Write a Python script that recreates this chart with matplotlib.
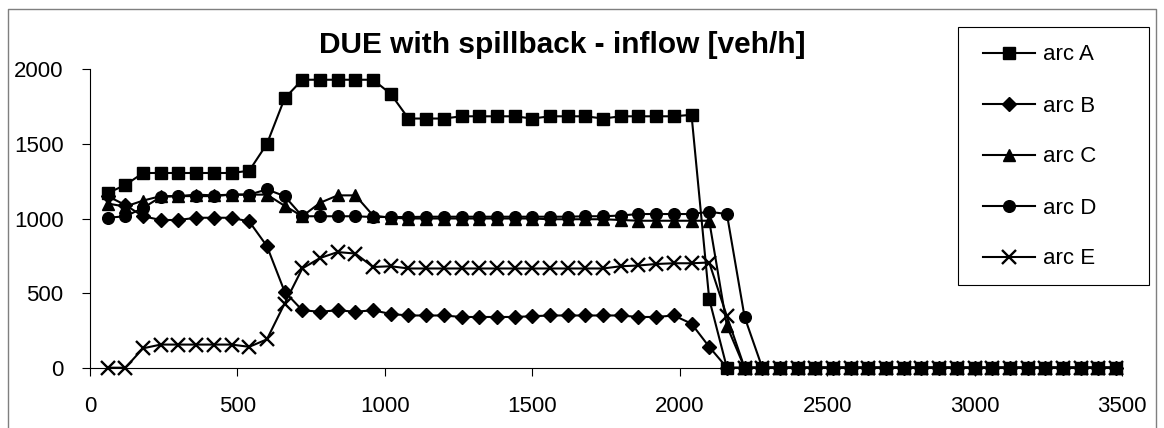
import matplotlib
matplotlib.use("Agg")
import matplotlib.pyplot as plt
from matplotlib.lines import Line2D
from matplotlib.patches import Rectangle

plt.rcParams['font.family'] = ['Liberation Sans', 'DejaVu Sans']

# time stamps [s]
times = list(range(60, 3540, 60))

arc_A = [1170, 1225, 1305, 1305, 1305, 1305, 1305, 1305, 1320, 1500,
         1805, 1930, 1930, 1930, 1930, 1930, 1835, 1670, 1670, 1670,
         1685, 1685, 1685, 1685, 1670, 1685, 1685, 1685, 1670, 1685,
         1685, 1685, 1685, 1695, 460, 0,
         0, 0, 0, 0, 0, 0, 0, 0, 0, 0, 0, 0, 0, 0, 0, 0, 0, 0, 0, 0, 0, 0]
arc_B = [1150, 1090, 1015, 990, 990, 1005, 1005, 1005, 980, 815,
         510, 385, 375, 385, 375, 385, 360, 350, 350, 350,
         340, 340, 340, 340, 345, 350, 350, 350, 350, 350,
         340, 340, 350, 295, 140, 0,
         0, 0, 0, 0, 0, 0, 0, 0, 0, 0, 0, 0, 0, 0, 0, 0, 0, 0, 0, 0, 0, 0]
arc_C = [1100, 1080, 1120, 1150, 1150, 1160, 1155, 1160, 1160, 1160,
         1085, 1015, 1105, 1155, 1155, 1020, 1005, 1000, 1000, 1000,
         1000, 1000, 1000, 1000, 1000, 995, 995, 995, 995, 990,
         985, 985, 985, 985, 985, 280,
         0, 0, 0, 0, 0, 0, 0, 0, 0, 0, 0, 0, 0, 0, 0, 0, 0, 0, 0, 0, 0, 0]
arc_D = [1005, 1015, 1070, 1145, 1150, 1150, 1150, 1160, 1160, 1195,
         1150, 1015, 1015, 1015, 1015, 1010, 1010, 1010, 1012, 1012,
         1012, 1012, 1012, 1012, 1012, 1012, 1012, 1015, 1015, 1020,
         1030, 1030, 1030, 1030, 1045, 1030, 340,
         0, 0, 0, 0, 0, 0, 0, 0, 0, 0, 0, 0, 0, 0, 0, 0, 0, 0, 0, 0, 0]
arc_E = [0, 0, 130, 155, 155, 155, 155, 155, 140, 190,
         430, 665, 735, 775, 765, 675, 680, 665, 665, 665,
         665, 665, 665, 665, 665, 665, 665, 665, 665, 680,
         685, 695, 700, 700, 705, 345,
         0, 0, 0, 0, 0, 0, 0, 0, 0, 0, 0, 0, 0, 0, 0, 0, 0, 0, 0, 0, 0, 0]

labels = ['arc A', 'arc B', 'arc C', 'arc D', 'arc E']
title = 'DUE with spillback - inflow [veh/h]'
xticks = [0, 500, 1000, 1500, 2000, 2500, 3000, 3500]
yticks = [0, 500, 1000, 1500, 2000]

W, H = 1164, 428
fig = plt.figure(figsize=(W / 100, H / 100), dpi=100)
ax = fig.add_axes([90 / W, (H - 367.7) / H, (1122 - 90) / W, (367.7 - 69.3) / H])

styles = [
    dict(marker='s', markersize=8.6),
    dict(marker='D', markersize=6.8),
    dict(marker='^', markersize=9.2),
    dict(marker='o', markersize=8.4),
    dict(marker='x', markersize=10.5, markeredgewidth=1.7),
]
series = [arc_A, arc_B, arc_C, arc_D, arc_E]
handles = []
for vals, lab, st in zip(series, labels, styles):
    h, = ax.plot(times, vals, color='black', linewidth=1.5, label=lab,
                 markerfacecolor='black', markeredgecolor='black',
                 clip_on=False, **st)
    handles.append(h)

ax.set_xlim(0, 3500)
ax.set_ylim(0, 2000)
ax.set_xticks(xticks)
ax.set_yticks(yticks)
for s in ['top', 'right']:
    ax.spines[s].set_visible(False)
for s in ['left', 'bottom']:
    ax.spines[s].set_linewidth(0.8)
    ax.spines[s].set_color('black')
ax.tick_params(axis='both', direction='out', length=5.5, width=0.8, labelsize=16)
ax.tick_params(axis='y', pad=13.5)
ax.tick_params(axis='x', pad=15)

fig.text(562.5 / W, 1 - 53 / H, title, ha='center', va='baseline',
         fontsize=21.5, fontweight='bold')

# legend frame
fig.add_artist(Rectangle((958 / W, 1 - 285 / H), 191 / W, 258 / H,
                         transform=fig.transFigure, fill=False,
                         edgecolor='black', linewidth=0.8))
ax.legend(handles=handles, loc='upper left',
          bbox_to_anchor=(983 / W, 1 - 44.5 / H), bbox_transform=fig.transFigure,
          frameon=False, fontsize=16, handlelength=2.35, handletextpad=0.35,
          labelspacing=1.35, borderpad=0, borderaxespad=0)

# chart area border
fig.add_artist(Line2D([8 / W, 8 / W, 1156 / W, 1156 / W],
                      [-0.05, 1 - 9 / H, 1 - 9 / H, -0.05],
                      transform=fig.transFigure, color='#7f7f7f', linewidth=1.0))

fig.savefig('out.png', dpi=100)
